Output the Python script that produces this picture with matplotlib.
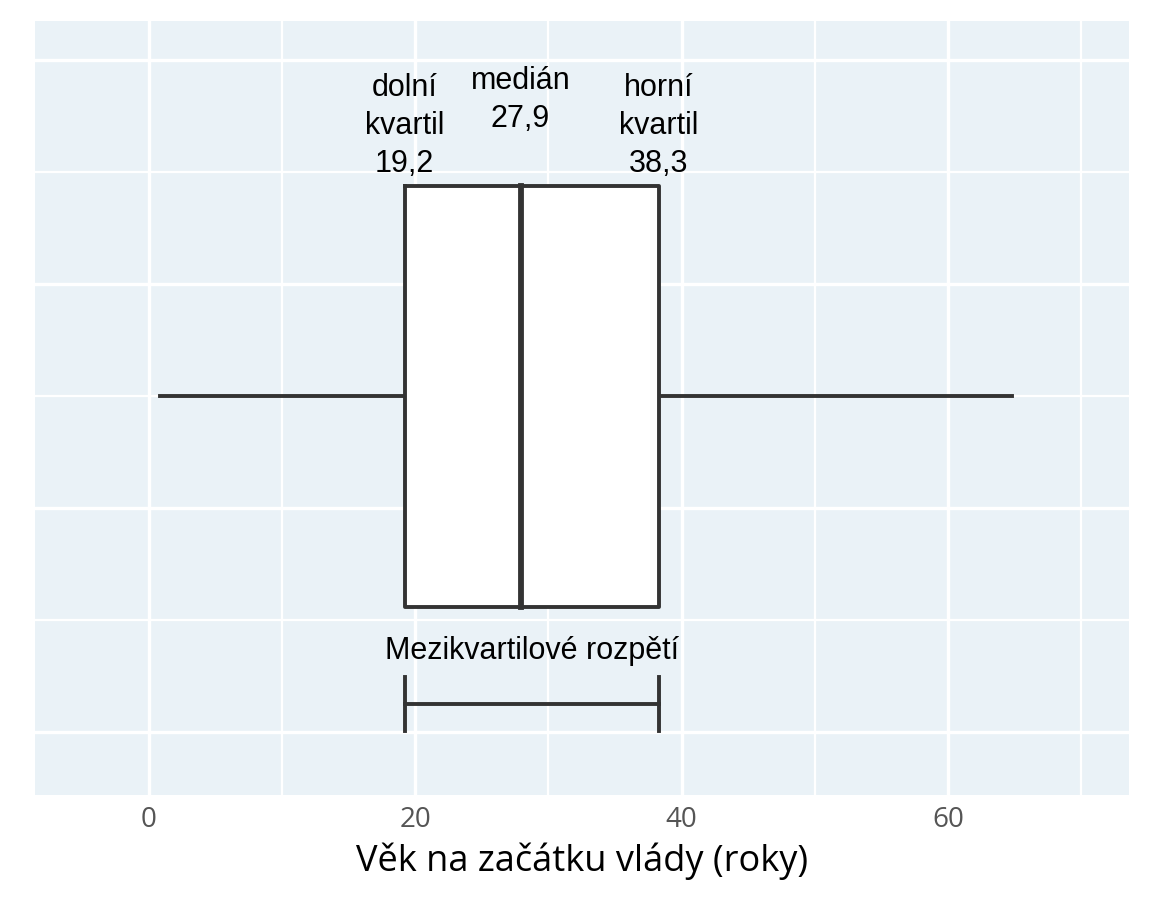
import matplotlib.pyplot as plt

# box statistics (years)
whisker_lo = 0.8
q1 = 19.2
median = 27.9
q3 = 38.3
whisker_hi = 64.8
xticks = [0, 20, 40, 60]

fig, ax = plt.subplots(figsize=(11.52, 9.22), dpi=100)
fig.subplots_adjust(left=0.03, right=0.98, top=0.977, bottom=0.138)
ax.set_facecolor("#eaf2f7")
for s in ax.spines.values():
    s.set_visible(False)

ax.set_xlim(-8.6, 73.6)
ax.set_ylim(-1.78, 1.675)
ax.set_xticks(xticks)
ax.set_xticks([10, 30, 50, 70], minor=True)
ax.set_yticks([-1.5, -0.5, 0.5, 1.5])
ax.set_yticks([-1, 0, 1], minor=True)
ax.grid(True, which="major", color="white", lw=2.4)
ax.grid(True, which="minor", color="white", lw=1.6)
ax.set_axisbelow(True)
ax.tick_params(axis="y", which="both", left=False, labelleft=False)
ax.tick_params(axis="x", which="both", length=0, labelsize=20, labelcolor="#555555", pad=8)
for lab in ax.get_xticklabels():
    lab.set_family("Open Sans")

c = "#333333"
lw = 2.8
h = 0.94
# whiskers
ax.plot([whisker_lo, q1], [0, 0], color=c, lw=lw)
ax.plot([q3, whisker_hi], [0, 0], color=c, lw=lw)
# box
ax.fill_between([q1, q3], -h, h, color="white", zorder=2)
ax.plot([q1, q3, q3, q1, q1], [h, h, -h, -h, h], color=c, lw=lw, zorder=3)
ax.plot([median, median], [-h, h], color=c, lw=4.2, zorder=3)

# IQR bar
yb = -1.375
ax.plot([q1, q3], [yb, yb], color=c, lw=lw)
ax.plot([q1, q1], [yb - 0.12, yb + 0.12], color=c, lw=lw)
ax.plot([q3, q3], [yb - 0.12, yb + 0.12], color=c, lw=lw)
fam = "Liberation Sans"
ax.text((q1 + q3) / 2, -1.14, "Mezikvartilové rozpětí", ha="center", va="center", fontsize=22, family=fam)

fmt = lambda v: f"{v:.1f}".replace(".", ",")
ax.text(q1, 0.97, f"dolní\nkvartil\n{fmt(q1)}", ha="center", va="bottom", fontsize=22, linespacing=1.35, family=fam)
ax.text(median, 1.17, f"medián\n{fmt(median)}", ha="center", va="bottom", fontsize=22, linespacing=1.35, family=fam)
ax.text(q3, 0.97, f"horní\nkvartil\n{fmt(q3)}", ha="center", va="bottom", fontsize=22, linespacing=1.35, family=fam)

ax.set_xlabel("Věk na začátku vlády (roky)", fontsize=26, labelpad=6, family="Open Sans")

fig.savefig("out.png")
